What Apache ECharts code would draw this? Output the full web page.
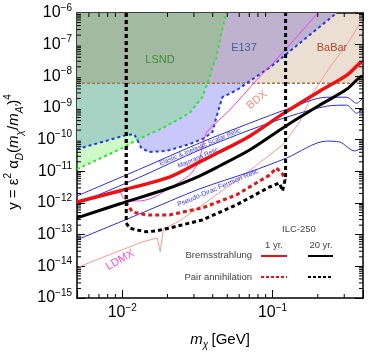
<!DOCTYPE html>
<html>
<head>
<meta charset="utf-8">
<script src="https://cdn.jsdelivr.net/npm/echarts@6/dist/echarts.min.js"></script>
<style>
html, body { margin: 0; padding: 0; background: #fff; }
#chart { width: 374px; height: 352px; }
</style>
</head>
<body>
<div id="chart"></div>
<script>
// axis ranges
var xMin = 0.005, xMax = 0.4
var yMin = 1e-15, yMax = 1e-6

// minor tick positions
var xMinorTicks = [0.006, 0.007, 0.008, 0.009, 0.02, 0.03, 0.04, 0.05, 0.06, 0.07, 0.08, 0.09, 0.2, 0.3]
var yDecades = [-15, -14, -13, -12, -11, -10, -9, -8, -7]
var yMantissas = [2, 3, 4, 5, 6, 7, 8, 9]

// excluded regions (upper boundaries)
var lsnd = [[0.005, 1.17e-11], [0.01, 5.4e-11], [0.0124, 9.7e-11], [0.0185, 2.3e-10], [0.028, 6.9e-10],
  [0.0341, 2.2e-9], [0.0369, 6.0e-9], [0.0398, 1.9e-8], [0.0423, 4.0e-8], [0.0457, 2.3e-7], [0.0494, 1e-6]]
var e137 = [[0.005, 5.0e-11], [0.0106, 1.39e-10], [0.012, 1.49e-10], [0.0126, 9.7e-11], [0.0134, 5.4e-11],
  [0.0151, 4.1e-11], [0.0197, 4.4e-11], [0.028, 7.2e-11], [0.0352, 1.12e-10], [0.0398, 1.73e-10],
  [0.0423, 5.1e-10], [0.0464, 2.2e-9], [0.0575, 3.6e-9], [0.0671, 6.0e-9], [0.1, 2.2e-8],
  [0.151, 1.1e-7], [0.267, 1e-6]]
var babar = [[0.005, 6.0e-9], [0.4, 6.0e-9]]

// projections / other experiments
var bdx = [[0.0097, 2.4e-12], [0.01015, 1.45e-12], [0.0111, 1.16e-12], [0.013, 1.16e-12], [0.0164, 1.55e-12],
  [0.0206, 2.98e-12], [0.0259, 5.75e-12], [0.0293, 9.5e-12], [0.0321, 1.96e-11], [0.0336, 4.1e-11],
  [0.0352, 1.12e-10], [0.0369, 1.86e-10], [0.0517, 8.5e-10], [0.0782, 7.5e-9], [0.111, 4.3e-8], [0.2, 1e-6]]
var ldmx = [[0.005, 9.0e-15], [0.00703, 1.74e-14], [0.0136, 5.9e-14], [0.0171, 7.9e-14], [0.0179, 2.9e-14],
  [0.0188, 1.52e-13], [0.024, 2.7e-13], [0.038, 1.25e-12], [0.0631, 7.1e-12], [0.1166, 6.8e-11],
  [0.151, 3.5e-10], [0.185, 2.9e-9], [0.24, 1.9e-8], [0.326, 1.36e-7], [0.398, 6.7e-7]]

// thermal relic targets
var scalarRelic = [[0.005, 1.67e-12], [0.0136, 1.27e-11], [0.0326, 7.8e-11], [0.0703, 3.3e-10], [0.13, 9.8e-10],
  [0.229, 2.19e-9], [0.311, 2.19e-9], [0.363, 1.41e-9], [0.398, 2.04e-9]]
var majoranaRelic = [[0.005, 9.3e-13], [0.0136, 7.1e-12], [0.0326, 4.7e-11], [0.0703, 2.0e-10], [0.13, 5.5e-10],
  [0.229, 1.14e-9], [0.311, 1.23e-9], [0.363, 6.9e-10], [0.398, 9.8e-10]]
var pseudoDiracRelic = [[0.005, 6.9e-14], [0.0136, 4.9e-13], [0.0326, 2.77e-12], [0.0703, 9.5e-12], [0.124, 2.63e-11],
  [0.229, 9.0e-11], [0.28, 8.4e-11], [0.352, 4.4e-11], [0.398, 5.8e-11]]

// ILC-250
var bremss1yr = [[0.005, 1.08e-12], [0.00955, 2.4e-12], [0.0206, 6.6e-12], [0.0326, 1.96e-11], [0.0443, 4.07e-11],
  [0.0703, 1.29e-10], [0.122, 7.4e-10], [0.206, 3.4e-9], [0.311, 1.07e-8], [0.38, 2.57e-8], [0.4, 2.8e-8]]
var bremss20yr = [[0.005, 3.4e-13], [0.00955, 9.3e-13], [0.0206, 2.98e-12], [0.0326, 7.1e-12], [0.0443, 1.47e-11],
  [0.0703, 4.7e-11], [0.122, 2.67e-10], [0.206, 1.23e-9], [0.311, 3.9e-9], [0.38, 9.3e-9], [0.4, 1.0e-8]]
var pair1yr = [[0.01063, 1e-6], [0.01063, 1.0e-12], [0.0117, 5.2e-13], [0.0145, 4.2e-13], [0.0206, 4.2e-13],
  [0.0341, 7.0e-13], [0.0575, 1.8e-12], [0.0955, 7.6e-12], [0.1063, 1.27e-11], [0.1166, 8.2e-12], [0.1222, 5.3e-12]]
var pair20yr = [[0.01063, 1e-6], [0.01063, 2.34e-13], [0.0112, 1.62e-13], [0.0124, 1.41e-13], [0.0145, 1.23e-13],
  [0.0169, 1.32e-13], [0.0206, 1.62e-13], [0.0341, 2.92e-13], [0.0575, 8.7e-13], [0.0955, 3.2e-12],
  [0.1113, 4.27e-12], [0.1166, 2.4e-12], [0.1222, 6.6e-12], [0.1222, 1e-6]]

var FONT = '"Liberation Sans", Arial, Helvetica, sans-serif'

function expLabel(v) {
    var l = Math.log10(v)
    var e = Math.round(l)
    if (Math.abs(l - e) > 1e-6) return ''
    return '{b|10}{s|' + (e < 0 ? '\u2212' + (-e) : e) + '}'
}
var labelRich = {
    b: { fontSize: 16, fontFamily: FONT, color: '#000', lineHeight: 20 },
    s: { fontSize: 10, fontFamily: FONT, color: '#000', lineHeight: 10, verticalAlign: 'top' }
}

function curve(data, color, width, dash, z, smooth) {
    return {
        type: 'line', data: data, symbol: 'none', showSymbol: false, smooth: smooth || false,
        lineStyle: { color: color, width: width, type: dash || 'solid' }, z: z, silent: true
    }
}
function fill(data, color, opacity) {
    return {
        type: 'line', data: data, symbol: 'none', showSymbol: false,
        lineStyle: { width: 0, opacity: 0 },
        areaStyle: { color: color, opacity: opacity, origin: 'end' }, z: 1, silent: true
    }
}

var yMinorTicks = []
yDecades.forEach(function (d) {
    yMinorTicks.push.apply(yMinorTicks, yMantissas.map(function (m) { return m * Math.pow(10, d) }))
})

function tickSeries(values, vertical) {
    return {
        type: 'custom', silent: true, clip: false, z: 20,
        data: values.map(function (v) { return vertical ? [xMin, v] : [v, yMin] }),
        renderItem: function (params, api) {
            var st = { stroke: '#000', lineWidth: 1 }
            if (vertical) {
                var a = api.coord([xMin, api.value(1)]), b = api.coord([xMax, api.value(1)])
                return { type: 'group', children: [
                    { type: 'line', shape: { x1: a[0], y1: a[1], x2: a[0] + 4, y2: a[1] }, style: st },
                    { type: 'line', shape: { x1: b[0], y1: b[1], x2: b[0] - 4, y2: b[1] }, style: st }
                ] }
            }
            var p = api.coord([api.value(0), yMin]), q = api.coord([api.value(0), yMax])
            return { type: 'group', children: [
                { type: 'line', shape: { x1: p[0], y1: p[1], x2: p[0], y2: p[1] - 4 }, style: st },
                { type: 'line', shape: { x1: q[0], y1: q[1], x2: q[0], y2: q[1] + 4 }, style: st }
            ] }
        }
    }
}

function xAxisDef(pos, labels) {
    return {
        type: 'log', logBase: 10, min: xMin, max: xMax, position: pos, splitNumber: 5,
        axisLine: { show: true, onZero: false, lineStyle: { color: '#000', width: 1.5 } },
        axisTick: { show: true, inside: true, length: 8, lineStyle: { color: '#000', width: 1 } },
        axisLabel: { show: labels, formatter: expLabel, rich: labelRich, margin: 5 },
        splitLine: { show: false }
    }
}
function yAxisDef(pos, labels) {
    return {
        type: 'log', logBase: 10, min: yMin, max: yMax, position: pos, splitNumber: 9,
        axisLine: { show: true, onZero: false, lineStyle: { color: '#000', width: 1.5 } },
        axisTick: { show: true, inside: true, length: 8, lineStyle: { color: '#000', width: 1 } },
        axisLabel: { show: labels, formatter: expLabel, rich: labelRich, margin: 5 },
        splitLine: { show: false }
    }
}

function txt(x, y, text, color, size, rot, align) {
    return {
        type: 'text', x: x, y: y, rotation: rot || 0, z: 100, silent: true,
        style: { text: text, fill: color, font: size + 'px ' + FONT, align: align || 'center', verticalAlign: 'middle' }
    }
}
function seg(x1, x2, y, color, dash) {
    return {
        type: 'line', z: 100, silent: true, shape: { x1: x1, y1: y, x2: x2, y2: y },
        style: { stroke: color, lineWidth: 2, lineDash: dash || null }
    }
}

var relicRot = 0.40
var option = {
    animation: false,
    backgroundColor: '#fff',
    grid: { left: 77, right: 11, top: 13, bottom: 54, containLabel: false },
    xAxis: [xAxisDef('bottom', true), xAxisDef('top', false)],
    yAxis: [yAxisDef('left', true), yAxisDef('right', false)],
    series: [
        fill(e137, 'rgb(200,200,250)', 1),
        fill(lsnd, 'rgb(88,238,72)', 0.3),
        fill(babar, 'rgb(155,90,30)', 0.2),
        curve(babar, '#9a7a48', 1.5, [3, 2], 3),
        curve(lsnd, '#2ee52e', 2, [3, 3], 3),
        curve(e137, '#2438e8', 2, [3, 3], 3),
        curve(ldmx, '#ff9a8c', 1, null, 4),
        curve(bdx, '#f03cf0', 1, null, 4, 0.3),
        curve(scalarRelic, '#2a2af0', 1, null, 5, 0.3),
        curve(majoranaRelic, '#2a2af0', 1, null, 5, 0.3),
        curve(pseudoDiracRelic, '#2a2af0', 1, null, 5, 0.3),
        curve(bremss20yr, '#000', 3, null, 6, 0.3),
        curve(bremss1yr, '#ee1111', 3.5, null, 6, 0.3),
        curve(pair1yr, '#ee1111', 3, [4, 3], 7),
        curve(pair20yr, '#000', 3, [4, 3], 8),
        tickSeries(xMinorTicks, false),
        tickSeries(yMinorTicks, true)
    ],
    graphic: [
        txt(160, 60, 'LSND', '#3d8c3d', 11),
        txt(244, 48, 'E137', '#4a5d9c', 11),
        txt(332, 48, 'BaBar', '#b5452f', 11),
        txt(257, 100, 'BDX', '#f5907a', 11, 0.68),
        txt(120, 260, 'LDMX', '#ff4fc8', 11, 0.52),
        txt(200, 147, 'Elastic & Inelastic Scalar Relic', '#3b3bf0', 6.5, relicRot),
        txt(198, 158, 'Majorana Relic', '#3b3bf0', 6.5, relicRot),
        txt(218, 188, 'Pseudo-Dirac Fermion Relic', '#3b3bf0', 7, relicRot),
        txt(299, 229, 'ILC-250', '#444', 9.5),
        txt(274, 245, '1 yr.', '#444', 9.5),
        txt(321, 245, '20 yr.', '#444', 9.5),
        txt(252, 255, 'Bremsstrahlung', '#444', 9.5, 0, 'right'),
        txt(252, 277, 'Pair annihilation', '#444', 9.5, 0, 'right'),
        seg(261, 287, 256, '#ee1111'),
        seg(308, 333, 256, '#000'),
        seg(261, 287, 277, '#ee1111', [3, 2]),
        seg(308, 333, 277, '#000', [3, 2]),
        {
            type: 'text', x: 220, y: 340, z: 100, silent: true,
            style: {
                text: '{i|m}{sub|\u03c7} {m|[GeV]}', align: 'center', verticalAlign: 'middle',
                rich: {
                    i: { fontSize: 15, fontFamily: FONT, fontStyle: 'italic', fill: '#000', lineHeight: 20 },
                    m: { fontSize: 15, fontFamily: FONT, fill: '#000', lineHeight: 20 },
                    sub: { fontSize: 10, fontFamily: FONT, fontStyle: 'italic', fill: '#000', lineHeight: 10, verticalAlign: 'bottom' }
                }
            }
        },
        {
            type: 'text', x: 14, y: 152, rotation: Math.PI / 2, z: 100, silent: true,
            style: {
                text: '{m|y = \u03b5}{sup|2}{m| \u03b1}{sub|D}{m|(}{i|m}{sub|\u03c7}{m|/}{i|m}{sub|A\u2032}{m|)}{sup|4}',
                align: 'center', verticalAlign: 'middle',
                rich: {
                    i: { fontSize: 15, fontFamily: FONT, fontStyle: 'italic', fill: '#000', lineHeight: 22 },
                    m: { fontSize: 15, fontFamily: FONT, fill: '#000', lineHeight: 22 },
                    sub: { fontSize: 10, fontFamily: FONT, fontStyle: 'italic', fill: '#000', lineHeight: 10, verticalAlign: 'bottom' },
                    sup: { fontSize: 10, fontFamily: FONT, fill: '#000', lineHeight: 10, verticalAlign: 'top' }
                }
            }
        }
    ]
}

var chart = echarts.init(document.getElementById('chart'))
chart.setOption(option)
</script>
</body>
</html>
